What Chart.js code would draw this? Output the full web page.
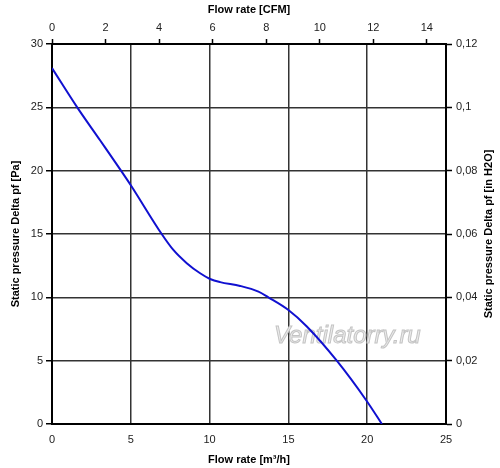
<!DOCTYPE html>
<html>
<head>
<meta charset="utf-8">
<script src="https://cdn.jsdelivr.net/npm/chart.js@4.4.1/dist/chart.umd.min.js"></script>
<style>
  html, body { margin: 0; padding: 0; background: #fff; }
  #wrap { width: 500px; height: 468px; }
</style>
</head>
<body>
<div id="wrap"><canvas id="chart"></canvas></div>
<script>
// fan curve
const flowM3h = [0, 1.6, 3.05, 4.38, 5, 6.96, 7.7, 8.55, 9.4, 10.03, 10.67, 11.94, 13.1, 13.73, 15, 16.17, 18.07, 19.98, 20.93];
const pressurePa = [28.1, 25, 22.4, 20, 18.85, 15, 13.74, 12.7, 11.9, 11.45, 11.2, 10.9, 10.45, 10, 9.0, 7.7, 5.0, 1.8, 0];

const flowMax = 25;      // m3/h
const pressureMax = 30;  // Pa
const cfmMax = flowMax / 1.699;
const inH2OMax = 0.12;

const FONT = 'Liberation Sans, Arial, sans-serif';
const tickFont = { family: FONT, size: 11 };
const titleFont = { family: FONT, size: 11, weight: 'bold' };

const points = flowM3h.map((x, i) => ({ x: x, y: pressurePa[i] }));

const extras = {
    id: 'extras',
    beforeDatasetsDraw(chart) {
        const ctx = chart.ctx;
        ctx.save();
        ctx.font = 'italic 24px ' + FONT;
        ctx.textBaseline = 'alphabetic';
        ctx.lineWidth = 1;
        ctx.strokeStyle = '#c4c4c4';
        ctx.fillStyle = '#ececec';
        ctx.fillText('Ventilatorry.ru', 274, 343);
        ctx.strokeText('Ventilatorry.ru', 274, 343);
        ctx.restore();
    },
    afterDraw(chart) {
        // right axis title reads bottom to top, like the left one
        const ctx = chart.ctx;
        const area = chart.chartArea;
        ctx.save();
        ctx.translate(489, (area.top + area.bottom) / 2);
        ctx.rotate(-Math.PI / 2);
        ctx.font = 'bold 11px ' + FONT;
        ctx.fillStyle = '#000';
        ctx.textAlign = 'center';
        ctx.textBaseline = 'middle';
        ctx.fillText('Static pressure Delta pf [in H2O]', 0, 0);
        ctx.restore();
    }
};

new Chart(document.getElementById('chart'), {
    type: 'line',
    data: {
        datasets: [{
            data: points,
            borderColor: '#1010d0',
            borderWidth: 2,
            pointRadius: 0,
            fill: false,
            cubicInterpolationMode: 'monotone'
        }]
    },
    options: {
        responsive: true,
        maintainAspectRatio: false,
        animation: false,
        layout: { padding: 0 },
        plugins: { legend: { display: false }, tooltip: { enabled: false } },
        scales: {
            x: {
                type: 'linear', position: 'bottom', min: 0, max: flowMax,
                ticks: { stepSize: 5, font: tickFont, color: '#222', padding: 9, maxRotation: 0 },
                grid: { color: '#333', lineWidth: 1.5, drawTicks: false, tickLength: 0 },
                border: { color: '#000', width: 2 },
                title: { display: true, text: 'Flow rate [m³/h]', font: titleFont, color: '#000', padding: { top: 0, bottom: 1 } },
                afterFit: s => { s.height = 44; }
            },
            x2: {
                type: 'linear', position: 'top', min: 0, max: cfmMax,
                ticks: { stepSize: 2, includeBounds: false, font: tickFont, color: '#222', padding: 4, maxRotation: 0 },
                grid: { drawOnChartArea: false, drawTicks: true, tickLength: 5, tickColor: '#000', tickWidth: 1.5 },
                border: { color: '#000', width: 2 },
                title: { display: true, text: 'Flow rate [CFM]', font: titleFont, color: '#000', padding: { top: 3, bottom: 0 } },
                afterFit: s => { s.height = 44; }
            },
            y: {
                type: 'linear', position: 'left', min: 0, max: pressureMax,
                ticks: { stepSize: 5, font: tickFont, color: '#222', padding: 3 },
                grid: { color: '#333', lineWidth: 1.5, drawTicks: true, tickLength: 6, tickColor: '#000' },
                border: { color: '#000', width: 2 },
                title: { display: true, text: 'Static pressure Delta pf [Pa]', font: titleFont, color: '#000', padding: { top: 9, bottom: 0 } },
                afterFit: s => { s.width = 52; }
            },
            y2: {
                type: 'linear', position: 'right', min: 0, max: inH2OMax,
                ticks: {
                    stepSize: 0.02, includeBounds: false, font: tickFont, color: '#222', padding: 4,
                    callback: v => String(Math.round(v * 100) / 100).replace('.', ',')
                },
                grid: { drawOnChartArea: false, drawTicks: true, tickLength: 6, tickColor: '#000', tickWidth: 1.5 },
                border: { color: '#000', width: 2 },
                title: { display: false },
                afterFit: s => { s.width = 54; }
            }
        }
    },
    plugins: [extras]
});
</script>
</body>
</html>
